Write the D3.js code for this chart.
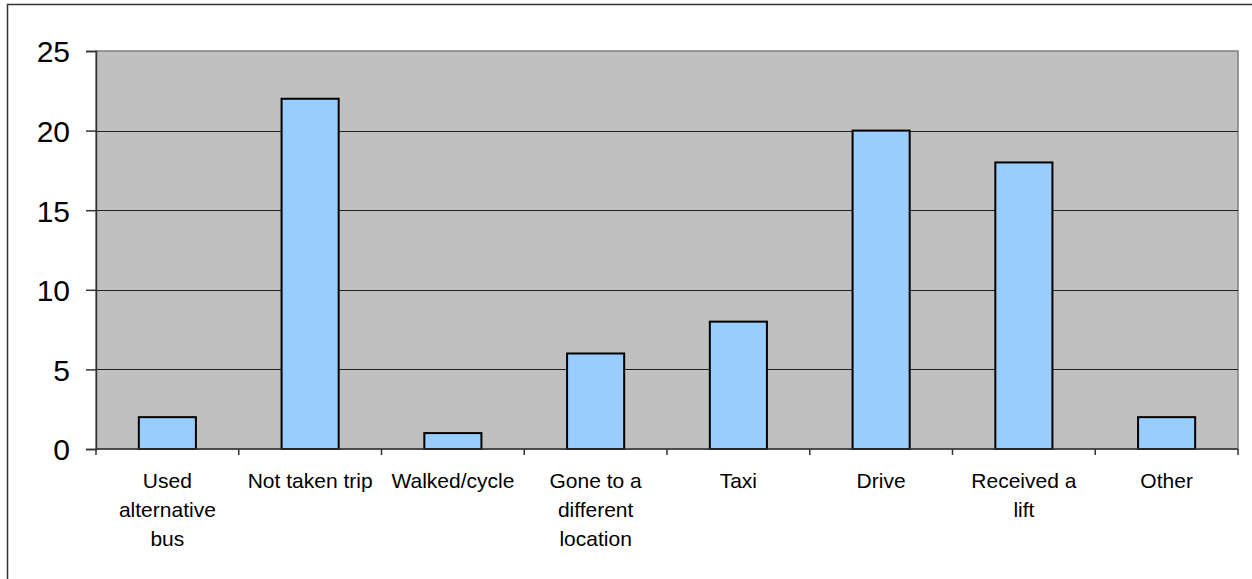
<!DOCTYPE html>
<html>
<head>
<meta charset="utf-8">
<script src="https://cdn.jsdelivr.net/npm/d3@7"></script>
<style>
  body { margin: 0; background: #fff; }
  svg { display: block; font-family: "Liberation Sans", Arial, sans-serif; }
</style>
</head>
<body>
<svg id="chart" width="1252" height="579"></svg>
<script>
// -------- data --------
const categories = ["Used alternative bus", "Not taken trip", "Walked/cycle",
  "Gone to a different location", "Taxi", "Drive", "Received a lift", "Other"];
// how Excel wrapped the category labels
const labelLines = [
  ["Used", "alternative", "bus"],
  ["Not taken trip"],
  ["Walked/cycle"],
  ["Gone to a", "different", "location"],
  ["Taxi"],
  ["Drive"],
  ["Received a", "lift"],
  ["Other"]
];
const values = [2, 22, 1, 6, 8, 20, 18, 2];
const yTicks = [0, 5, 10, 15, 20, 25];

// -------- setup --------
const svg = d3.select("#chart"),
  plot = { left: 96, right: 1238, top: 51, bottom: 449 };

// outer chart frame (only top/left edges are visible in the picture)
svg.append("rect")
  .attr("x", 7.5).attr("y", 4.5)
  .attr("width", 1300).attr("height", 700)
  .attr("fill", "#fff")
  .attr("stroke", "#333")
  .attr("stroke-width", 1.5);

const x = d3.scaleBand()
  .domain(categories)
  .range([plot.left, plot.right])
  .paddingInner(0.6)
  .paddingOuter(0.3);

const y = d3.scaleLinear()
  .domain([0, 25])
  .range([plot.bottom, plot.top]);

// plot area background
svg.append("rect")
  .attr("x", plot.left).attr("y", plot.top)
  .attr("width", plot.right - plot.left)
  .attr("height", plot.bottom - plot.top)
  .attr("fill", "#c0c0c0")
  .attr("stroke", "#808080")
  .attr("stroke-width", 1.5);

// gridlines
svg.append("g")
  .selectAll("line")
  .data(yTicks.filter(d => d > 0 && d < 25))
  .enter()
  .append("line")
  .attr("x1", plot.left).attr("x2", plot.right)
  .attr("y1", d => Math.round(y(d)) + 0.5)
  .attr("y2", d => Math.round(y(d)) + 0.5)
  .attr("stroke", "#222")
  .attr("stroke-width", 1);

// bars
svg.append("g")
  .selectAll("rect")
  .data(values)
  .enter()
  .append("rect")
  .attr("x", (d, i) => x(categories[i]))
  .attr("y", d => y(d))
  .attr("width", x.bandwidth())
  .attr("height", d => y(0) - y(d))
  .attr("fill", "#99ccff")
  .attr("stroke", "#000")
  .attr("stroke-width", 2);

// y axis
const yAxis = svg.append("g")
  .attr("transform", `translate(${plot.left},0)`)
  .call(d3.axisLeft(y).tickValues(yTicks).tickSize(10).tickPadding(16));
yAxis.select(".domain").attr("stroke", "#333").attr("stroke-width", 1.5);
yAxis.selectAll(".tick line").attr("stroke", "#333").attr("stroke-width", 1.5);
yAxis.selectAll(".tick text")
  .attr("font-size", 30)
  .attr("font-family", "Liberation Sans, Arial, sans-serif")
  .attr("fill", "#000")
  .attr("dy", "0.36em");

// x axis line and category boundary ticks
const step = x.step();
const xAxis = svg.append("g");
xAxis.append("line")
  .attr("x1", plot.left).attr("x2", plot.right)
  .attr("y1", plot.bottom).attr("y2", plot.bottom)
  .attr("stroke", "#333").attr("stroke-width", 1.5);
xAxis.selectAll("line.tick")
  .data(d3.range(categories.length + 1))
  .enter()
  .append("line")
  .attr("class", "tick")
  .attr("x1", i => plot.left + i * step)
  .attr("x2", i => plot.left + i * step)
  .attr("y1", plot.bottom)
  .attr("y2", plot.bottom + 6)
  .attr("stroke", "#333").attr("stroke-width", 1.5);

// category labels
xAxis.selectAll("text")
  .data(categories)
  .enter()
  .append("text")
  .attr("x", d => x(d) + x.bandwidth() / 2)
  .attr("y", 488)
  .attr("text-anchor", "middle")
  .attr("font-size", 21)
  .attr("fill", "#000")
  .each(function (d, i) {
    d3.select(this).selectAll("tspan")
      .data(labelLines[i])
      .enter()
      .append("tspan")
      .attr("x", x(d) + x.bandwidth() / 2)
      .attr("dy", (t, j) => (j === 0 ? 0 : 29))
      .text(t => t);
  });
</script>
</body>
</html>
